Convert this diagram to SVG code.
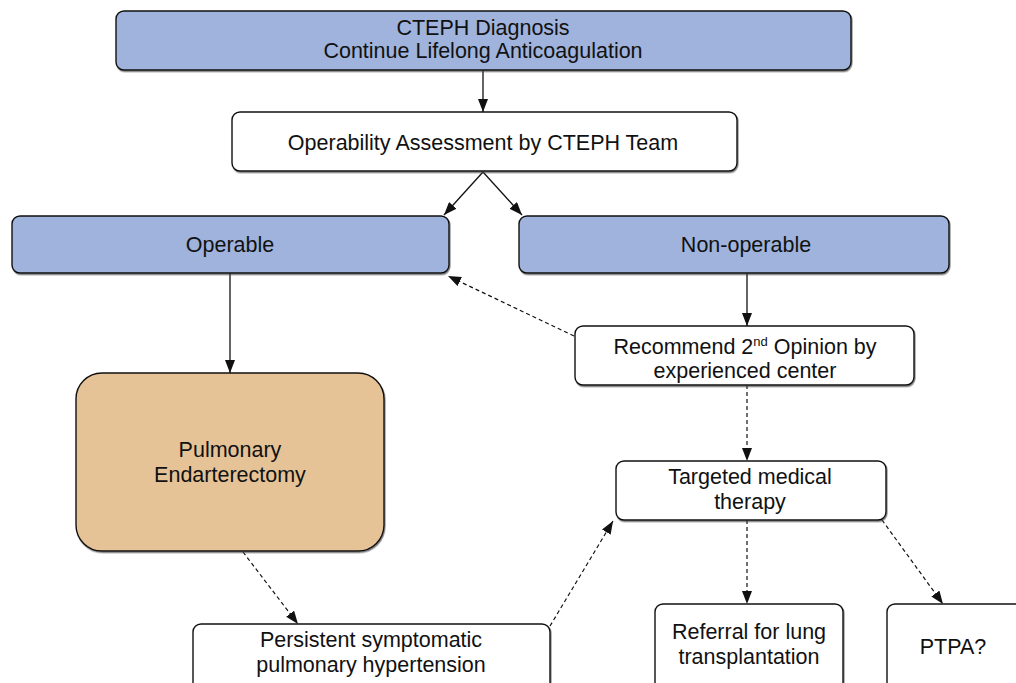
<svg xmlns="http://www.w3.org/2000/svg" width="1016" height="683" viewBox="0 0 1016 683">
  <style>
    .box { stroke: #111; stroke-width: 1.4; filter: url(#shadow); }
    .blue { fill: #9fb3dc; }
    .white { fill: #ffffff; }
    .tan { fill: #e6c397; }
    .lbl { font-family: "Liberation Sans", Arial, sans-serif; font-size: 21.5px; fill: #111; text-anchor: middle; }
    .solid { stroke: #111; stroke-width: 1.3; fill: none; marker-end: url(#arrow); }
    .dash { stroke: #111; stroke-width: 1.2; fill: none; stroke-dasharray: 4 3; marker-end: url(#arrow); }
  </style>
  <defs>
    <marker id="arrow" viewBox="0 0 13 10" refX="13" refY="5" markerWidth="13" markerHeight="10" markerUnits="userSpaceOnUse" orient="auto">
      <path d="M0,0 L13,5 L0,10 z" fill="#111"/>
    </marker>
    <filter id="shadow" x="-5%" y="-5%" width="110%" height="115%">
      <feDropShadow dx="0.8" dy="1.4" stdDeviation="0.4" flood-color="#444" flood-opacity="0.7"/>
    </filter>
  </defs>

  <rect width="1016" height="683" fill="#ffffff"/>

  <g id="connectors">
    <line class="solid" x1="483" y1="70" x2="483" y2="112"/>
    <line class="solid" x1="483" y1="172" x2="444" y2="215"/>
    <line class="solid" x1="483" y1="172" x2="522" y2="215"/>
    <line class="solid" x1="230" y1="273" x2="230" y2="373"/>
    <line class="solid" x1="747" y1="273" x2="747" y2="326"/>
    <line class="dash" x1="574" y1="336" x2="448" y2="276"/>
    <line class="dash" x1="747" y1="385" x2="747" y2="461"/>
    <line class="dash" x1="243" y1="552" x2="298" y2="624"/>
    <line class="dash" x1="550" y1="626" x2="613" y2="521"/>
    <line class="dash" x1="747" y1="520" x2="747" y2="604"/>
    <line class="dash" x1="882" y1="520" x2="943" y2="604"/>
  </g>

  <g id="diagnosis">
    <rect class="box blue" x="116" y="11" width="735" height="59" rx="8"/>
    <text class="lbl" x="483" y="35">CTEPH Diagnosis</text>
    <text class="lbl" x="483" y="58">Continue Lifelong Anticoagulation</text>
  </g>

  <g id="assessment">
    <rect class="box white" x="232" y="112" width="505" height="59" rx="8"/>
    <text class="lbl" x="483" y="150">Operability Assessment by CTEPH Team</text>
  </g>

  <g id="operable">
    <rect class="box blue" x="12" y="216" width="437" height="57" rx="8"/>
    <text class="lbl" x="230" y="252">Operable</text>
  </g>

  <g id="non-operable">
    <rect class="box blue" x="519" y="216" width="430" height="57" rx="8"/>
    <text class="lbl" x="746" y="252">Non-operable</text>
  </g>

  <g id="second-opinion">
    <rect class="box white" x="575" y="326" width="339" height="59" rx="8"/>
    <text class="lbl" x="745" y="354">Recommend 2<tspan font-size="13" dy="-8">nd</tspan><tspan dy="8"> Opinion by</tspan></text>
    <text class="lbl" x="745" y="378">experienced center</text>
  </g>

  <g id="endarterectomy">
    <rect class="box tan" x="76" y="373" width="308" height="178" rx="26"/>
    <text class="lbl" x="230" y="457">Pulmonary</text>
    <text class="lbl" x="230" y="482">Endarterectomy</text>
  </g>

  <g id="medical-therapy">
    <rect class="box white" x="616" y="461" width="270" height="59" rx="8"/>
    <text class="lbl" x="750" y="484">Targeted medical</text>
    <text class="lbl" x="750" y="509">therapy</text>
  </g>

  <g id="persistent-ph">
    <rect class="box white" x="193" y="624" width="357" height="80" rx="8"/>
    <text class="lbl" x="371" y="647">Persistent symptomatic</text>
    <text class="lbl" x="371" y="672">pulmonary hypertension</text>
  </g>

  <g id="lung-transplant">
    <rect class="box white" x="655" y="604" width="188" height="100" rx="8"/>
    <text class="lbl" x="749" y="639">Referral for lung</text>
    <text class="lbl" x="749" y="664">transplantation</text>
  </g>

  <g id="ptpa">
    <rect class="box white" x="887" y="604" width="150" height="100" rx="8"/>
    <text class="lbl" x="953" y="654">PTPA?</text>
  </g>
</svg>
